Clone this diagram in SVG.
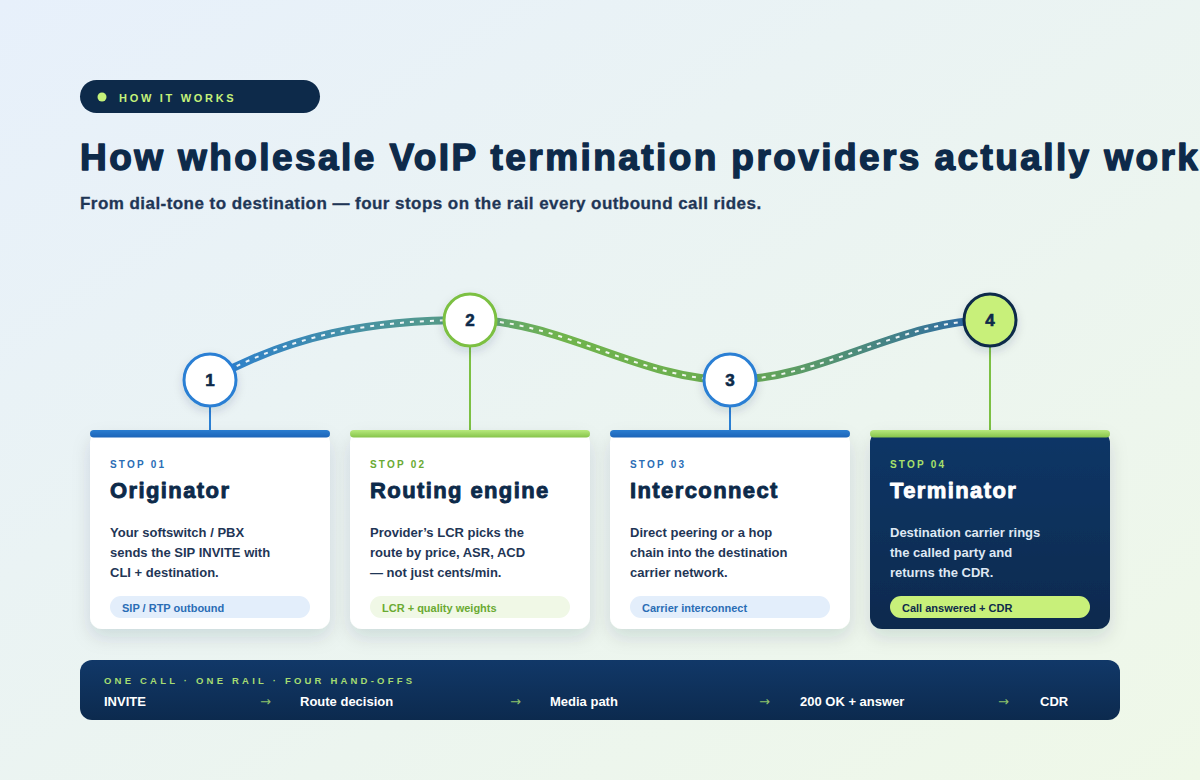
<svg xmlns="http://www.w3.org/2000/svg" width="1200" height="780" viewBox="0 0 1200 780">
<defs>
<linearGradient id="bg" x1="0" y1="0" x2="1" y2="1">
<stop offset="0" stop-color="#e7f0fb"/>
<stop offset="1" stop-color="#eff8e8"/>
</linearGradient>
<linearGradient id="rail" gradientUnits="userSpaceOnUse" x1="210" y1="0" x2="990" y2="0">
<stop offset="0" stop-color="#2b7fd0"/>
<stop offset="0.33" stop-color="#5a9e82"/>
<stop offset="0.45" stop-color="#70b44c"/>
<stop offset="0.68" stop-color="#6aac50"/>
<stop offset="1" stop-color="#2a66ac"/>
</linearGradient>
<linearGradient id="barBlue" x1="0" y1="0" x2="0" y2="1">
<stop offset="0" stop-color="#2a7dd0"/>
<stop offset="1" stop-color="#1b64b8"/>
</linearGradient>
<linearGradient id="barGreen" x1="0" y1="0" x2="0" y2="1">
<stop offset="0" stop-color="#b7e97d"/>
<stop offset="1" stop-color="#86c44a"/>
</linearGradient>
<linearGradient id="dark" x1="0" y1="0" x2="0" y2="1">
<stop offset="0" stop-color="#103667"/>
<stop offset="1" stop-color="#0c2a4e"/>
</linearGradient>
<linearGradient id="band" x1="0" y1="0" x2="0" y2="1">
<stop offset="0" stop-color="#113868"/>
<stop offset="1" stop-color="#0c2a4e"/>
</linearGradient>
<filter id="sh" x="-20%" y="-20%" width="140%" height="150%">
<feDropShadow dx="0" dy="8" stdDeviation="9" flood-color="#0d2a4a" flood-opacity="0.13"/>
</filter>
<filter id="shn" x="-50%" y="-50%" width="200%" height="200%">
<feDropShadow dx="0" dy="4" stdDeviation="5" flood-color="#0d2a4a" flood-opacity="0.15"/>
</filter>
<style>
.sans{font-family:"Liberation Sans",Arial,sans-serif;font-weight:bold}
.head{font-family:"Liberation Sans",Arial,sans-serif;font-weight:bold;font-size:37px;letter-spacing:2.42px;fill:#0d2a4a;stroke:#0d2a4a;stroke-width:1.4px;stroke-linejoin:round}
.sub{font-family:"Liberation Sans",Arial,sans-serif;font-weight:bold;font-size:17px;letter-spacing:0.45px;fill:#1f3656;stroke:#1f3656;stroke-width:0.3px}
.stop{font-family:"Liberation Sans",Arial,sans-serif;font-weight:bold;font-size:10px;letter-spacing:2.2px}
.ttl{font-family:"Liberation Sans",Arial,sans-serif;font-weight:bold;font-size:22px;letter-spacing:1.4px;stroke-width:0.9px;stroke-linejoin:round}
.body{font-family:"Liberation Sans",Arial,sans-serif;font-weight:bold;font-size:13px;fill:#1f3656}
.chip{font-family:"Liberation Sans",Arial,sans-serif;font-weight:bold;font-size:11px}
.num{font-family:"Liberation Sans",Arial,sans-serif;font-weight:bold;font-size:17px;fill:#0d2a4a;stroke:#0d2a4a;stroke-width:0.6px;text-anchor:middle}
.row{font-family:"Liberation Sans",Arial,sans-serif;font-weight:bold;font-size:13px;fill:#ffffff}
.arr{font-family:"DejaVu Sans",sans-serif;font-size:13px;fill:#8cc26a}
.card{fill:#ffffff}
</style>
</defs>
<rect width="1200" height="780" fill="url(#bg)"/>

<g id="header">
<rect x="80" y="80" width="240" height="33" rx="16.5" fill="#0d2a4a"/>
<circle cx="102" cy="97" r="4.5" fill="#c5f27a"/>
<text x="119" y="101.5" class="sans" font-size="11" letter-spacing="2.7" fill="#c5f27a">HOW IT WORKS</text>
<text x="80" y="170" class="head">How wholesale VoIP termination providers actually work</text>
<text x="80" y="209" class="sub">From dial-tone to destination — four stops on the rail every outbound call rides.</text>
</g>

<g id="connectors">
<path d="M210,380 C290,335 370,320 470,320 C560,320 640,380 730,380 C820,380 900,320 990,320" fill="none" stroke="url(#rail)" stroke-width="8" stroke-linecap="round"/>
<path d="M210,380 C290,335 370,320 470,320 C560,320 640,380 730,380 C820,380 900,320 990,320" fill="none" stroke="#ffffff" stroke-width="2" stroke-dasharray="4 6" opacity="0.9"/>
<line x1="210" y1="406" x2="210" y2="431" stroke="#2a7fd4" stroke-width="2"/>
<line x1="470" y1="346" x2="470" y2="431" stroke="#7cc043" stroke-width="2"/>
<line x1="730" y1="406" x2="730" y2="431" stroke="#2a7fd4" stroke-width="2"/>
<line x1="990" y1="346" x2="990" y2="431" stroke="#7cc043" stroke-width="2"/>
</g>

<g id="node1">
<circle cx="210" cy="380" r="26" fill="#ffffff" stroke="#2a7fd4" stroke-width="3" filter="url(#shn)"/>
<text x="210" y="386" class="num">1</text>
</g>
<g id="node2">
<circle cx="470" cy="320" r="26" fill="#ffffff" stroke="#7cc043" stroke-width="3" filter="url(#shn)"/>
<text x="470" y="326" class="num">2</text>
</g>
<g id="node3">
<circle cx="730" cy="380" r="26" fill="#ffffff" stroke="#2a7fd4" stroke-width="3" filter="url(#shn)"/>
<text x="730" y="386" class="num">3</text>
</g>
<g id="node4">
<circle cx="990" cy="320" r="26" fill="#c8f07a" stroke="#0d2a4a" stroke-width="3" filter="url(#shn)"/>
<text x="990" y="326" class="num">4</text>
</g>

<g id="card1">
<rect x="90" y="431" width="240" height="198" rx="12" class="card" filter="url(#sh)"/>
<rect x="90" y="430" width="240" height="7.5" rx="3.75" fill="url(#barBlue)"/>
<text x="110" y="468" class="stop" fill="#2a6db5">STOP 01</text>
<text x="110" y="498" class="ttl" fill="#0d2a4a" stroke="#0d2a4a">Originator</text>
<text class="body"><tspan x="110" y="537">Your softswitch / PBX</tspan><tspan x="110" y="557">sends the SIP INVITE with</tspan><tspan x="110" y="577">CLI + destination.</tspan></text>
<rect x="110" y="596" width="200" height="22" rx="11" fill="#e3eefb"/>
<text x="122" y="611.5" class="chip" fill="#2a6db5">SIP / RTP outbound</text>
</g>

<g id="card2">
<rect x="350" y="431" width="240" height="198" rx="12" class="card" filter="url(#sh)"/>
<rect x="350" y="430" width="240" height="7.5" rx="3.75" fill="url(#barGreen)"/>
<text x="370" y="468" class="stop" fill="#6aaa32">STOP 02</text>
<text x="370" y="498" class="ttl" fill="#0d2a4a" stroke="#0d2a4a">Routing engine</text>
<text class="body"><tspan x="370" y="537">Provider’s LCR picks the</tspan><tspan x="370" y="557">route by price, ASR, ACD</tspan><tspan x="370" y="577">— not just cents/min.</tspan></text>
<rect x="370" y="596" width="200" height="22" rx="11" fill="#f0f8e6"/>
<text x="382" y="611.5" class="chip" fill="#6aaa32">LCR + quality weights</text>
</g>

<g id="card3">
<rect x="610" y="431" width="240" height="198" rx="12" class="card" filter="url(#sh)"/>
<rect x="610" y="430" width="240" height="7.5" rx="3.75" fill="url(#barBlue)"/>
<text x="630" y="468" class="stop" fill="#2a6db5">STOP 03</text>
<text x="630" y="498" class="ttl" fill="#0d2a4a" stroke="#0d2a4a">Interconnect</text>
<text class="body"><tspan x="630" y="537">Direct peering or a hop</tspan><tspan x="630" y="557">chain into the destination</tspan><tspan x="630" y="577">carrier network.</tspan></text>
<rect x="630" y="596" width="200" height="22" rx="11" fill="#e3eefb"/>
<text x="642" y="611.5" class="chip" fill="#2a6db5">Carrier interconnect</text>
</g>

<g id="card4">
<rect x="870" y="431" width="240" height="198" rx="12" fill="url(#dark)" filter="url(#sh)"/>
<rect x="870" y="430" width="240" height="7.5" rx="3.75" fill="url(#barGreen)"/>
<text x="890" y="468" class="stop" fill="#a8e06a">STOP 04</text>
<text x="890" y="498" class="ttl" fill="#ffffff" stroke="#ffffff">Terminator</text>
<text class="body" style="fill:#dfe8f3"><tspan x="890" y="537">Destination carrier rings</tspan><tspan x="890" y="557">the called party and</tspan><tspan x="890" y="577">returns the CDR.</tspan></text>
<rect x="890" y="596" width="200" height="22" rx="11" fill="#c8f07a"/>
<text x="902" y="611.5" class="chip" fill="#0d2a4a">Call answered + CDR</text>
</g>

<g id="summary">
<rect x="80" y="660" width="1040" height="60" rx="12" fill="url(#band)"/>
<text x="104" y="684" class="sans" font-size="9.5" letter-spacing="3.2" fill="#a6dc72">ONE CALL · ONE RAIL · FOUR HAND-OFFS</text>
<text x="104" y="706" class="row">INVITE</text>
<text x="260" y="706" class="arr">→</text>
<text x="300" y="706" class="row">Route decision</text>
<text x="510" y="706" class="arr">→</text>
<text x="550" y="706" class="row">Media path</text>
<text x="759" y="706" class="arr">→</text>
<text x="800" y="706" class="row">200 OK + answer</text>
<text x="998" y="706" class="arr">→</text>
<text x="1040" y="706" class="row">CDR</text>
</g>
</svg>
